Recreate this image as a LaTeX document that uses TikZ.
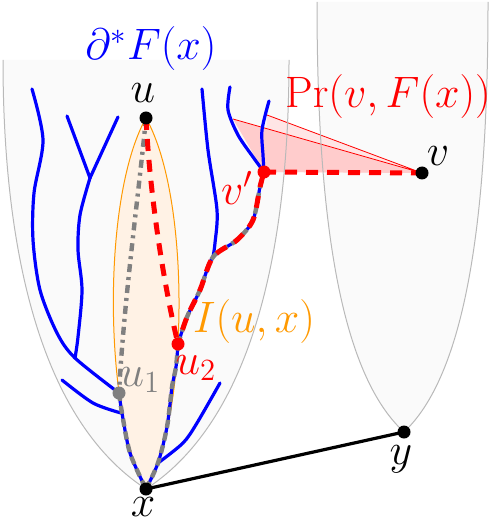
\RequirePackage{fix-cm}
\documentclass[tikz,border=0pt]{standalone}
\usepackage{tikz}
\usetikzlibrary{calc}
\definecolor{lightorange}{RGB}{255,153,0}

\begin{document}
\begin{tikzpicture}[x=0.5pt,y=-0.5pt]
\tikzstyle{dot} = [circle, fill=black, inner sep=0pt, minimum size=6.5pt]
\tikzstyle{lbl} = [inner sep=0pt, font=\fontsize{22}{26}\selectfont]
\tikzstyle{cone} = [gray!55, line width=0.5pt]
\tikzstyle{branch} = [blue, line width=1.6pt, line cap=round, line join=round]
\tikzstyle{geod} = [gray, line width=2.2pt, dash pattern=on 4pt off 2.5pt]
\tikzstyle{proj} = [red, line width=2.5pt, dash pattern=on 6pt off 4.5pt]
\useasboundingbox (0,0) rectangle (497,523);

\coordinate (u) at (146,118);
\coordinate (x) at (146,489);
\coordinate (y) at (404,432);
\coordinate (v) at (422,173);
\coordinate (vp) at (264,172);
\coordinate (uone) at (119,393);
\coordinate (utwo) at (178,344);
\coordinate (pa) at (233,119);
\coordinate (pb) at (267,115);

% cones F(x) and F(y)
\fill[black!2] (x) .. controls (40,420) and (3,250) .. (3,60) -- (289,60) .. controls (289,250) and (252,420) .. (x) -- cycle;
\fill[black!2] (y) .. controls (336,370) and (317,200) .. (317,2) -- (488,2) .. controls (488,200) and (470,370) .. (y) -- cycle;

% I(u,x)
\draw[lightorange, fill=orange!10, line width=0.5pt] (u) .. controls (100,200) and (105,420) .. (x) .. controls (188,420) and (192,200) .. (u);

% Pr(v,F(x))
\fill[red!10] (vp) -- (pb) -- (v) -- cycle;
\fill[red!20] (vp) -- (pa) -- (v) -- cycle;
\draw[red, line width=0.4pt] (pb) -- (v) (pa) -- (v);

\draw[cone] (3,60) .. controls (3,250) and (40,420) .. (x) .. controls (252,420) and (289,250) .. (289,60);
\draw[cone] (317,2) .. controls (317,200) and (336,370) .. (y) .. controls (470,370) and (488,200) .. (488,2);

% boundary branches
\draw[branch] plot[smooth] coordinates {(32,89) (43,140) (34,193) (33,240) (40,290) (57,333) (75,358) (uone)};
\draw[branch] (67,116) -- (90,178) -- (118,117);
\draw[branch] plot[smooth] coordinates {(90,178) (80,215) (78,250) (82,290) (78,337) (75,358)};
\draw[branch] plot[smooth] coordinates {(62,380) (93,403) (121,413)};
\draw[branch] plot[smooth] coordinates {(uone) (122,413) (130,453) (x)};
\draw[branch] plot[smooth] coordinates {(x) (158,463) (167,427) (172,387) (176,367) (utwo)};
\draw[branch] plot[smooth] coordinates {(220,383) (197,423) (183,443) (158,463)};
\draw[branch] plot[smooth] coordinates {(utwo) (187,317) (200,290) (213,257) (237,240) (253,220) (260,187) (vp)};
\draw[branch] plot[smooth] coordinates {(202,89) (208,150) (217,210) (215,243) (213,257)};
\draw[branch] plot[smooth] coordinates {(230,87) (228,110) (238,135) (253,157) (vp)};
\draw[branch] plot[smooth] coordinates {(269,101) (262,130) (263,155) (vp)};

% geodesics
\draw[gray, line width=2.2pt, dash pattern=on 4pt off 2.5pt on 1.5pt off 2.5pt] (u) .. controls (138,200) and (124,300) .. (uone);
\draw[geod] plot[smooth] coordinates {(uone) (122,413) (130,453) (x)};
\draw[geod] plot[smooth] coordinates {(x) (158,463) (167,427) (172,387) (176,367) (utwo)};
\draw[geod] plot[smooth] coordinates {(utwo) (187,317) (200,290) (213,257) (237,240) (253,220) (260,187) (vp)};
\draw[proj, dash phase=3pt] plot[smooth] coordinates {(utwo) (187,317) (200,290) (213,257) (237,240) (253,220) (260,187) (vp)};
\draw[proj] (u) .. controls (150,200) and (165,290) .. (utwo);
\draw[proj] (vp) -- (v);

\draw[line width=1.6pt] (x) -- (y);

\node[dot] (udot) at (u) {};
\node[dot] (xdot) at (x) {};
\node[dot] (ydot) at (y) {};
\node[dot] (vdot) at (v) {};
\node[dot, fill=red] (vpdot) at (vp) {};
\node[dot, fill=red] (utwodot) at (utwo) {};
\node[dot, fill=gray] (uonedot) at (uone) {};

\node[lbl, text=blue] (fxlbl) at (151,49) {$\partial^* F(x)$};
\node[lbl] (ulbl) at (143,93) {$u$};
\node[lbl] (xlbl) at (143,507) {$x$};
\node[lbl] (ylbl) at (401,459) {$y$};
\node[lbl] (vlbl) at (438,156) {$v$};
\node[lbl, text=red] (vplbl) at (237,188) {$v'$};
\node[lbl, text=gray] (uonelbl) at (140,380) {$u_1$};
\node[lbl, text=red] (utwolbl) at (196,368) {$u_2$};
\node[lbl, text=lightorange] (ilbl) at (254,322) {$I(u,x)$};
\node[lbl, text=red] (prlbl) at (388,97) {$\Pr(v,F(x))$};
\end{tikzpicture}
\end{document}
